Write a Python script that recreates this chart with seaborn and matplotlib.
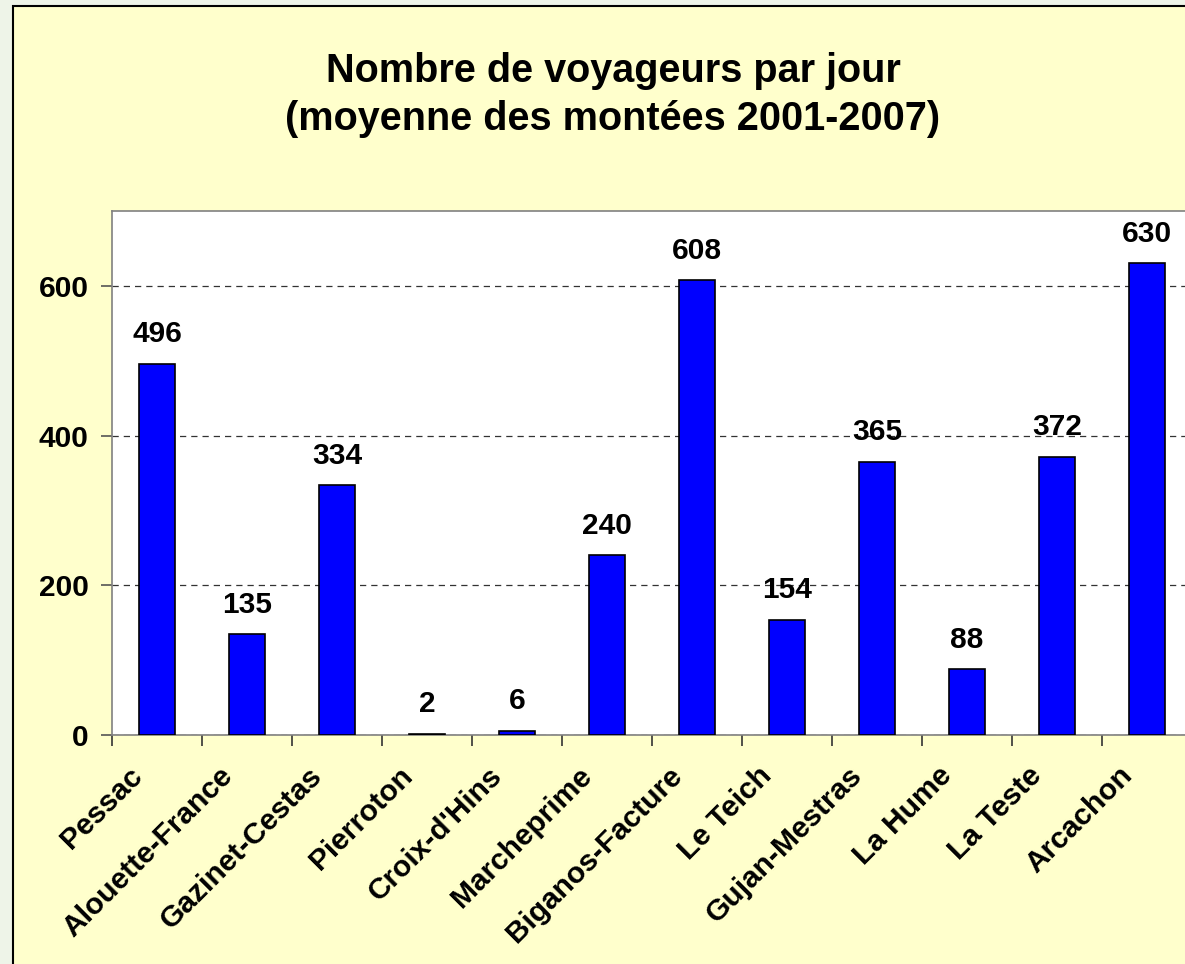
import pandas as pd
import matplotlib.pyplot as plt
import matplotlib.transforms as mtransforms
import seaborn as sns
import numpy as np
from matplotlib.patches import Rectangle

gares = ['Pessac', 'Alouette-France', 'Gazinet-Cestas', 'Pierroton', "Croix-d'Hins",
         'Marcheprime', 'Biganos-Facture', 'Le Teich', 'Gujan-Mestras', 'La Hume',
         'La Teste', 'Arcachon']
voyageurs = [496, 135, 334, 2, 6, 240, 608, 154, 365, 88, 372, 630]
y_ticks = [0, 200, 400, 600]

df = pd.DataFrame({'gare': gares, 'voyageurs': voyageurs})

sns.set_style('white')
plt.rcParams['font.family'] = ['Liberation Sans', 'DejaVu Sans']
plt.rcParams['text.color'] = 'black'
plt.rcParams['xtick.color'] = 'black'
plt.rcParams['ytick.color'] = 'black'

fig = plt.figure(figsize=(11.85, 9.64), dpi=100)
fig.patch.set_facecolor('#eef4e8')
# yellow chart area with black border (cut off at right/bottom)
fig.patches.append(Rectangle((13 / 1185, -0.01), 1.02, 1 - 6 / 964 + 0.01,
                             transform=fig.transFigure, facecolor='#ffffcc',
                             edgecolor='black', linewidth=1.5, zorder=-10))

ax = fig.add_axes([112 / 1185, 1 - 735 / 964, 1080 / 1185, 524 / 964])
ax.set_facecolor('white')

sns.barplot(data=df, x='gare', y='voyageurs', color='#0000ff', saturation=1,
            width=0.4, edgecolor='black', linewidth=1.2, ax=ax, zorder=3)

ax.set_ylim(0, 700)
ax.set_xlim(-0.5, len(gares) - 0.5)
ax.set_yticks(y_ticks)
ax.set_yticklabels([str(v) for v in y_ticks], fontsize=21.5, fontweight='bold')
ax.yaxis.grid(True, linestyle=(0, (5, 4)), color='#333333', linewidth=0.9)
ax.set_axisbelow(True)
ax.set_xlabel('')
ax.set_ylabel('')

ax.set_xticks(np.arange(len(gares)))
ax.set_xticklabels(gares, rotation=45, ha='right', rotation_mode='anchor',
                   fontsize=21.5, fontweight='bold')
ax.set_xticks(np.arange(len(gares) + 1) - 0.5, minor=True)
ax.tick_params(axis='x', which='both', bottom=True)
ax.tick_params(axis='x', which='major', length=0, pad=19)
ax.tick_params(axis='x', which='minor', length=8, width=1.2, color='#333333', direction='out')
ax.tick_params(axis='y', left=True, length=8, width=1.2, color='#555555', direction='out', pad=9)

# shift rotated labels to the left of the category centre
shift = mtransforms.ScaledTranslation(-29 / 100, 0, fig.dpi_scale_trans)
for lab in ax.get_xticklabels():
    lab.set_transform(lab.get_transform() + shift)

for side in ['top', 'right', 'left', 'bottom']:
    ax.spines[side].set_color('#808080')
    ax.spines[side].set_linewidth(1.2)

for i, v in enumerate(voyageurs):
    ax.annotate(str(v), (i, v), xytext=(0, 11), textcoords='offset points',
                ha='center', va='bottom', fontsize=21.5, fontweight='bold')

fig.text(613 / 1185, 1 - 95 / 964, 'Nombre de voyageurs par jour\n(moyenne des montées 2001-2007)',
         ha='center', va='center', fontsize=28.5, fontweight='bold', linespacing=1.35)

fig.savefig('out.png', dpi=100, facecolor=fig.get_facecolor())
